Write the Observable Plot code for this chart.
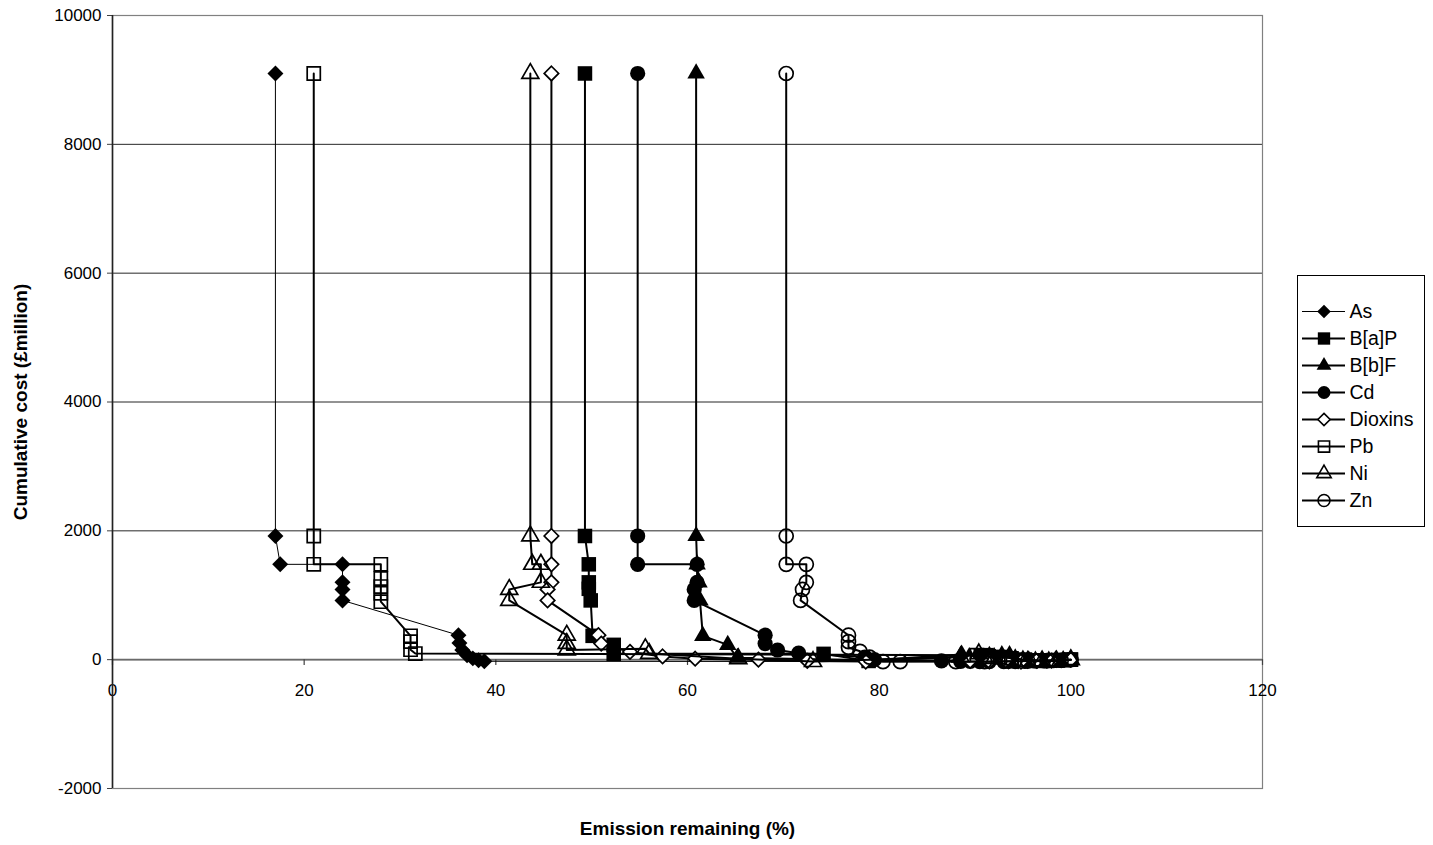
<!DOCTYPE html>
<html>
<head>
<meta charset="utf-8">
<script src="https://cdn.jsdelivr.net/npm/d3@7"></script>
<script src="https://cdn.jsdelivr.net/npm/@observablehq/plot@0.6"></script>
<style>
  html, body { margin: 0; padding: 0; background: #fff; }
  #wrap { position: relative; width: 1433px; height: 845px; overflow: hidden; }
  #legend { position: absolute; left: 1297px; top: 275px; border: 1px solid #000; background: #fff; line-height: 0; }
</style>
</head>
<body>
<div id="wrap"><div id="chart"></div><div id="legend"></div></div>
<script>
// Pollutants, in legend order
const names = ["As", "B[a]P", "B[b]F", "Cd", "Dioxins", "Pb", "Ni", "Zn"];

// Emission remaining (%) and cumulative cost (£million) along each abatement curve
const asX   = [17, 17, 17.5, 24, 24, 24, 24, 36.1, 36.2, 36.5, 37, 37.6, 38.2, 38.8, 93.5, 94.5, 95.5, 96.5, 97.5, 98.5, 99.3, 100];
const asY   = [9100, 1920, 1480, 1480, 1200, 1090, 920, 380, 260, 150, 70, 20, -10, -25, -30, -30, -25, -20, -20, -10, -5, 0];

const bapX  = [49.3, 49.3, 49.7, 49.7, 49.7, 49.9, 50.1, 52.3, 52.3, 74.2, 78.9, 90.6, 91.2, 92.4, 93.5, 94.3, 95, 95.8, 96.5, 97.2, 97.8, 98.5, 99.2, 100];
const bapY  = [9100, 1920, 1480, 1200, 1100, 920, 370, 230, 90, 90, -20, 60, 70, 40, 20, -10, -20, -20, -15, -20, -10, -5, -10, 0];

const bbfX  = [60.9, 60.9, 61, 61.2, 61.3, 61.6, 64.2, 65.2, 79, 88.6, 89.4, 90.2, 91.5, 92.8, 93.6, 94.2, 95, 95.6, 96.3, 97, 97.7, 98.4, 99.2, 100];
const bbfY  = [9100, 1920, 1480, 1200, 920, 370, 230, 30, -10, 80, 40, 20, 60, 70, 40, 20, 0, -10, -15, -20, -15, -10, -5, 0];

const cdX   = [54.8, 54.8, 54.8, 61, 61, 60.7, 60.7, 68.1, 68.1, 69.4, 71.6, 78.5, 79.5, 86.5, 88.5, 89.5, 90.5, 91.5, 93, 94.2, 95.2, 96.2, 97.2, 98.2, 99.1, 100];
const cdY   = [9100, 1920, 1480, 1480, 1200, 1090, 920, 380, 250, 150, 100, 40, 0, -20, -25, -25, -30, -30, -30, -30, -25, -20, -20, -15, -10, 0];

const dioxX = [45.8, 45.8, 45.8, 45.8, 45.4, 45.4, 50.7, 51, 54, 57.4, 60.8, 67.4, 72.5, 78.6, 89.5, 91.5, 93.2, 94.8, 96.4, 98, 100];
const dioxY = [9100, 1920, 1480, 1200, 1090, 920, 380, 250, 120, 50, 15, 0, -20, -30, -20, -25, -10, -30, -20, -15, 0];

const pbX   = [21, 21, 21, 28, 28, 28, 28, 28, 31.1, 31.1, 31.1, 31.6, 90.2, 91.4, 92.6, 93.8, 95.2, 96.6, 98.2, 100];
const pbY   = [9100, 1920, 1480, 1480, 1260, 1135, 1030, 900, 370, 280, 155, 95, 70, 50, 40, 20, 0, -10, -10, 0];

const niX   = [43.6, 43.6, 43.8, 44.7, 44.7, 41.4, 41.4, 47.4, 47.4, 47.4, 55.6, 56, 65.3, 73.1, 88.5, 90.4, 92, 93.6, 95.5, 97, 98.5, 100];
const niY   = [9100, 1920, 1480, 1480, 1200, 1090, 920, 380, 250, 150, 170, 95, 15, -30, 40, 90, 20, 50, -30, -20, -20, 0];

const znX   = [70.3, 70.3, 70.3, 72.4, 72.4, 72, 71.8, 76.8, 76.8, 76.8, 78, 79, 80.4, 82.2, 88, 91, 93.5, 95.5, 97.5, 99, 100];
const znY   = [9100, 1920, 1480, 1480, 1200, 1090, 920, 380, 280, 190, 130, 40, -30, -30, -30, -30, -25, -20, -15, -10, 0];

// Axis ticks
const xTicks = [0, 20, 40, 60, 80, 100, 120];
const yTicks = [-2000, 0, 2000, 4000, 6000, 8000, 10000];

const seriesData = {
  "As": [asX, asY], "B[a]P": [bapX, bapY], "B[b]F": [bbfX, bbfY], "Cd": [cdX, cdY],
  "Dioxins": [dioxX, dioxY], "Pb": [pbX, pbY], "Ni": [niX, niY], "Zn": [znX, znY]
};

// Marker and line appearance for each pollutant
const look = {
  "As":      {symbol: "diamond2", fill: "#000", stroke: "none", r: 7.2, line: 1},
  "B[a]P":   {symbol: "square",   fill: "#000", stroke: "none", r: 8.2, line: 2},
  "B[b]F":   {symbol: "triangle", fill: "#000", stroke: "none", r: 6.5, line: 2},
  "Cd":      {symbol: "circle",   fill: "#000", stroke: "none", r: 7.6, line: 2},
  "Dioxins": {symbol: "diamond2", fill: "#fff", stroke: "#000", r: 6.5, line: 2},
  "Pb":      {symbol: "square",   fill: "none", stroke: "#000", r: 7.4, line: 2},
  "Ni":      {symbol: "triangle", fill: "none", stroke: "#000", r: 6.3, line: 2},
  "Zn":      {symbol: "circle",   fill: "none", stroke: "#000", r: 7,   line: 2}
};

const rows = names.flatMap(name => {
  const [xs, ys] = seriesData[name];
  return xs.map((x, i) => ({name, x, y: ys[i]}));
});

const font = "'Liberation Sans', Arial, Helvetica, sans-serif";

const seriesMarks = names.flatMap(name => {
  const data = rows.filter(d => d.name === name);
  const s = look[name];
  return [
    Plot.line(data, {x: "x", y: "y", stroke: "#000", strokeWidth: s.line, curve: "linear"}),
    Plot.dot(data, {x: "x", y: "y", symbol: () => s.symbol, r: s.r, fill: s.fill,
                    stroke: s.stroke, strokeWidth: 1.7})
  ];
});

const chart = Plot.plot({
  width: 1433,
  height: 845,
  marginLeft: 112,
  marginRight: 171,
  marginTop: 15,
  marginBottom: 57,
  style: {fontFamily: font, background: "#fff", color: "#000"},
  symbol: {type: "identity"},
  x: {domain: [0, 120], axis: null},
  y: {domain: [-2000, 10000], axis: null},
  marks: [
    Plot.gridY(yTicks, {stroke: "#000", strokeOpacity: 0.85, strokeWidth: 1}),
    Plot.frame({stroke: "#808080", strokeWidth: 1.2}),
    Plot.ruleY([0], {stroke: "#6a6a6a", strokeWidth: 1.6}),
    Plot.ruleX(xTicks, {x: d => d, y1: 0, y2: -90, stroke: "#404040", strokeWidth: 1.2}),
    Plot.text(xTicks, {x: d => d, y: 0, dy: 31, text: d => String(d), fontSize: 17, fill: "#000"}),
    Plot.axisY(yTicks, {tickSize: 5, tickPadding: 6, tickFormat: d => String(d), label: null,
                        fontSize: 17, stroke: "#404040", fill: "#000"}),
    Plot.ruleX([0], {stroke: "#222", strokeWidth: 1.6}),
    ...seriesMarks,
    Plot.text(["Emission remaining (%)"], {frameAnchor: "bottom", dy: 40, lineAnchor: "middle",
                                            textAnchor: "middle", fontSize: 19, fontWeight: "bold", fill: "#000"}),
    Plot.text(["Cumulative cost (£million)"], {frameAnchor: "left", dx: -92, rotate: -90,
                                                textAnchor: "middle", lineAnchor: "middle",
                                                fontSize: 19, fontWeight: "bold", fill: "#000"})
  ]
});
document.getElementById("chart").append(chart);

// Legend: short line with marker, then pollutant name
const legend = Plot.plot({
  width: 126,
  height: 250,
  margin: 0,
  style: {fontFamily: font, background: "#fff", color: "#000"},
  symbol: {type: "identity"},
  x: {domain: [0, 126], axis: null},
  y: {type: "point", domain: names, range: [18, 240], axis: null},
  marks: [
    ...names.flatMap(name => {
      const s = look[name];
      return [
        Plot.ruleY([name], {y: d => d, x1: 4, x2: 47, stroke: "#000", strokeWidth: s.line === 1 ? 1.2 : 2}),
        Plot.dot([name], {y: d => d, x: 25.5, symbol: () => s.symbol, r: s.r * 0.85,
                          fill: s.fill, stroke: s.stroke, strokeWidth: 1.6})
      ];
    }),
    Plot.text(names, {y: d => d, x: 51, text: d => d, textAnchor: "start", fontSize: 19.5, fill: "#000"})
  ]
});
document.getElementById("legend").append(legend);
</script>
</body>
</html>
